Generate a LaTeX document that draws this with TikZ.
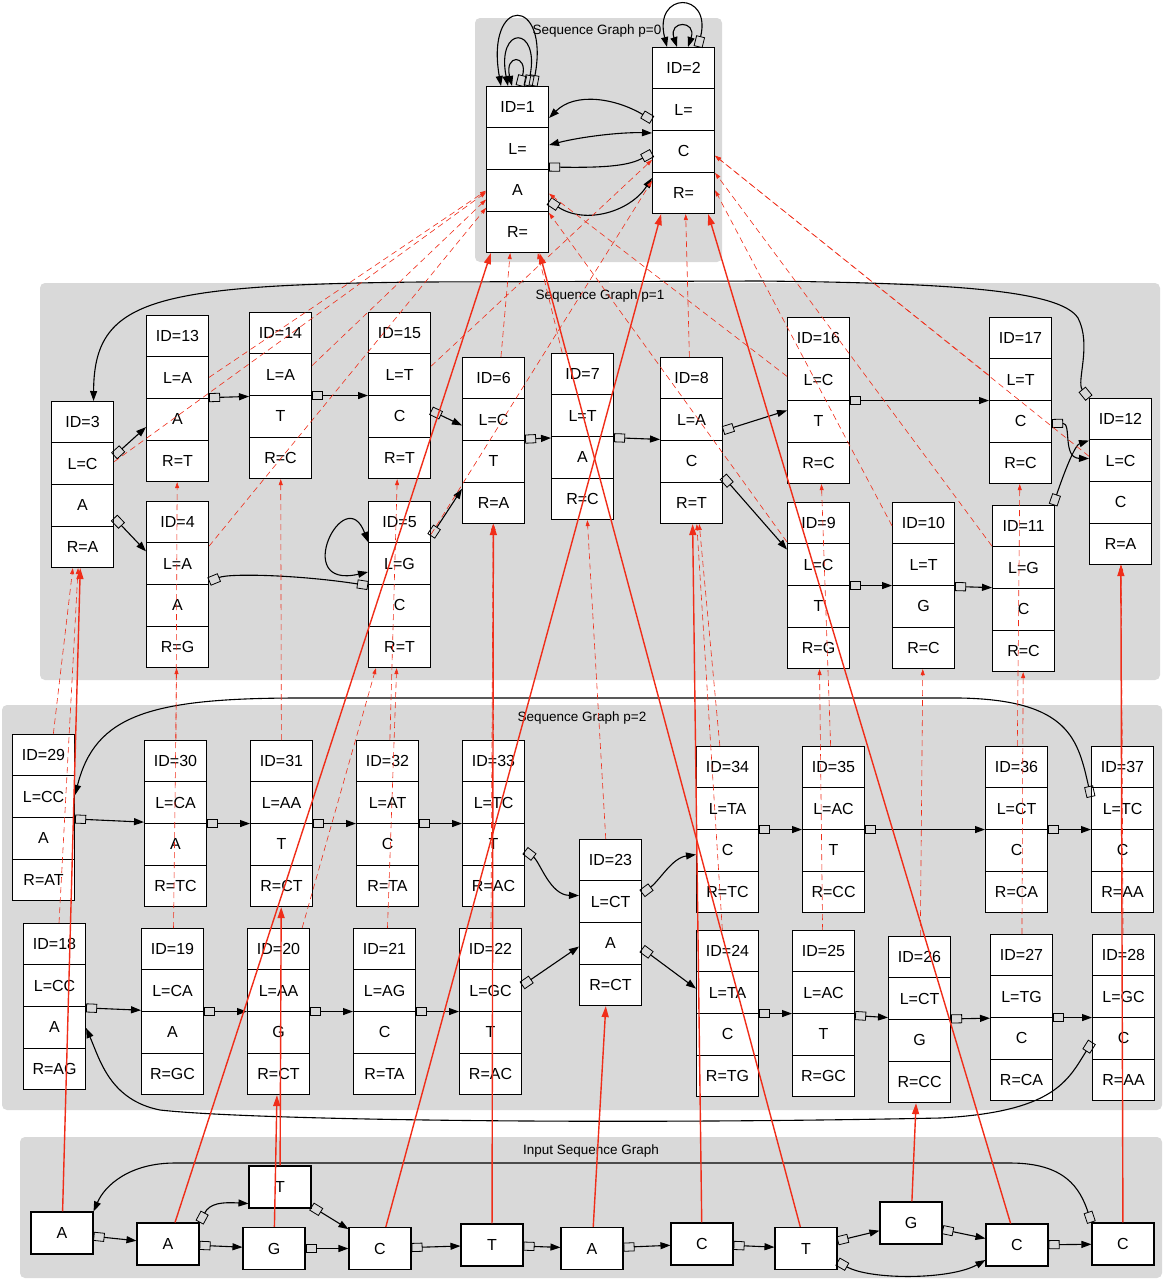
\documentclass[tikz,border=0pt]{standalone}
\usepackage{fontspec}
\setmainfont{Liberation Sans}
\usetikzlibrary{arrows.meta,calc}
\definecolor{clusterbg}{RGB}{217,217,217}
\definecolor{redc}{RGB}{240,45,25}
\newcommand\recfont{\fontsize{16}{18}\selectfont}
\newcommand\clusterfont{\fontsize{13.5}{15}\selectfont}
% name, x-left, y-top, id, left, base, right
\newcommand\recnode[7]{%
  \node[recbox, anchor=north west] (#1) at (#2,#3) {};
  \draw[cellsep] ($(#1.north west)!0.25!(#1.south west)$) -- ($(#1.north east)!0.25!(#1.south east)$);
  \draw[cellsep] ($(#1.north west)!0.5!(#1.south west)$) -- ($(#1.north east)!0.5!(#1.south east)$);
  \draw[cellsep] ($(#1.north west)!0.75!(#1.south west)$) -- ($(#1.north east)!0.75!(#1.south east)$);
  \node[celltext] (#1t1) at ($(#1.north)!0.125!(#1.south)$) {#4};
  \node[celltext] (#1t2) at ($(#1.north)!0.375!(#1.south)$) {#5};
  \node[celltext] (#1t3) at ($(#1.north)!0.625!(#1.south)$) {#6};
  \node[celltext] (#1t4) at ($(#1.north)!0.875!(#1.south)$) {#7};
}
\begin{document}
\begin{tikzpicture}[x=1pt,y=-1pt,
  recbox/.style={draw, fill=white, line width=1.1pt, minimum width=62pt, minimum height=166pt, inner sep=0pt},
  inbox/.style={draw, fill=white, line width=1.1pt, minimum width=62pt, minimum height=42pt, inner sep=0pt, font=\recfont},
  celltext/.style={font=\recfont, inner sep=0pt},
  cellsep/.style={line width=1.1pt},
  cluster/.style={fill=clusterbg, rounded corners=5pt},
  clab/.style={font=\clusterfont, inner sep=0pt},
  tbox/.tip={Rectangle[open,length=11pt,width=9pt,line width=0.8pt]},
  thead/.tip={Triangle[length=10pt,width=7pt]},
  be/.style={line width=1.1pt, arrows={tbox-thead}},
  bb/.style={line width=1.1pt, arrows={tbox-tbox}},
  hh/.style={line width=1.1pt, arrows={thead-thead}},
  rs/.style={draw=redc, line width=1.4pt, arrows={-Triangle[length=11pt,width=7pt]}},
  rd/.style={draw=redc, line width=0.6pt, dash pattern=on 6pt off 4pt, arrows={-Triangle[length=6pt,width=4pt]}},
]
\fill[white] (0,0) rectangle (1164,1280);
\useasboundingbox (0,0) rectangle (1164,1280);

% clusters
\fill[cluster] (475,18) rectangle (722,262);
\fill[cluster] (40,283) rectangle (1160,680);
\fill[cluster] (2,705) rectangle (1162,1110);
\fill[cluster] (20,1137) rectangle (1162,1278);
\node[clab] (lab0) at (597,31) {Sequence Graph p=0};
\node[clab] (lab1) at (600,296) {Sequence Graph p=1};
\node[clab] (lab2) at (582,718) {Sequence Graph p=2};
\node[clab] (lab3) at (591,1151) {Input Sequence Graph};

% p=0
\recnode{n1}{486}{86}{ID=1}{L=}{A}{R=}
\recnode{n2}{652}{47}{ID=2}{L=}{C}{R=}
% p=1
\recnode{n3}{51}{401}{ID=3}{L=C}{A}{R=A}
\recnode{n13}{146}{315}{ID=13}{L=A}{A}{R=T}
\recnode{n14}{249}{312}{ID=14}{L=A}{T}{R=C}
\recnode{n4}{146}{501}{ID=4}{L=A}{A}{R=G}
\recnode{n15}{368}{312}{ID=15}{L=T}{C}{R=T}
\recnode{n5}{368}{501}{ID=5}{L=G}{C}{R=T}
\recnode{n6}{462}{357}{ID=6}{L=C}{T}{R=A}
\recnode{n7}{551}{353}{ID=7}{L=T}{A}{R=C}
\recnode{n8}{660}{357}{ID=8}{L=A}{C}{R=T}
\recnode{n16}{787}{317}{ID=16}{L=C}{T}{R=C}
\recnode{n17}{989}{317}{ID=17}{L=T}{C}{R=C}
\recnode{n12}{1089}{398}{ID=12}{L=C}{C}{R=A}
\recnode{n9}{787}{502}{ID=9}{L=C}{T}{R=G}
\recnode{n10}{892}{502}{ID=10}{L=T}{G}{R=C}
\recnode{n11}{992}{505}{ID=11}{L=G}{C}{R=C}
% p=2
\recnode{n29}{12}{734}{ID=29}{L=CC}{A}{R=AT}
\recnode{n30}{144}{740}{ID=30}{L=CA}{A}{R=TC}
\recnode{n31}{250}{740}{ID=31}{L=AA}{T}{R=CT}
\recnode{n32}{356}{740}{ID=32}{L=AT}{C}{R=TA}
\recnode{n33}{462}{740}{ID=33}{L=TC}{T}{R=AC}
\recnode{n18}{23}{923}{ID=18}{L=CC}{A}{R=AG}
\recnode{n19}{141}{928}{ID=19}{L=CA}{A}{R=GC}
\recnode{n20}{247}{928}{ID=20}{L=AA}{G}{R=CT}
\recnode{n21}{353}{928}{ID=21}{L=AG}{C}{R=TA}
\recnode{n22}{459}{928}{ID=22}{L=GC}{T}{R=AC}
\recnode{n23}{579}{839}{ID=23}{L=CT}{A}{R=CT}
\recnode{n34}{696}{746}{ID=34}{L=TA}{C}{R=TC}
\recnode{n35}{802}{746}{ID=35}{L=AC}{T}{R=CC}
\recnode{n36}{985}{746}{ID=36}{L=CT}{C}{R=CA}
\recnode{n37}{1091}{746}{ID=37}{L=TC}{C}{R=AA}
\recnode{n24}{696}{930}{ID=24}{L=TA}{C}{R=TG}
\recnode{n25}{792}{930}{ID=25}{L=AC}{T}{R=GC}
\recnode{n26}{888}{936}{ID=26}{L=CT}{G}{R=CC}
\recnode{n27}{990}{934}{ID=27}{L=TG}{C}{R=CA}
\recnode{n28}{1092}{934}{ID=28}{L=GC}{C}{R=AA}

% input graph
\node[inbox] (i1) at (62,1233) {A};
\node[inbox] (i2) at (168,1244) {A};
\node[inbox] (i3) at (280,1187) {T};
\node[inbox] (i4) at (274,1248.5) {G};
\node[inbox] (i5) at (380,1248.5) {C};
\node[inbox] (i6) at (492,1245) {T};
\node[inbox] (i7) at (592,1248.5) {A};
\node[inbox] (i8) at (702,1244) {C};
\node[inbox] (i9) at (806,1248.5) {T};
\node[inbox] (i10) at (911,1223) {G};
\node[inbox] (i11) at (1017,1245) {C};
\node[inbox] (i12) at (1123,1244) {C};

% ---- black edges: input
\draw[be] (i1) -- (i2);
\draw[be] (i2) -- (i4);
\draw[be] (i2.north east) .. controls (210,1203) and (222,1202) .. ([yshift=5pt]i3.south west);
\draw[be] (i3) -- (i5);
\draw[be] (i4) -- (i5);
\draw[be] (i5) -- (i6);
\draw[be] (i6) -- (i7);
\draw[be] (i7) -- (i8);
\draw[be] (i8) -- (i9);
\draw[be] (i9) -- (i10);
\draw[be] ([yshift=-13pt]i9.east) .. controls (870,1280) and (950,1280) .. ([yshift=-15pt]i11.west);
\draw[be] (i10) -- (i11);
\draw[be] (i11) -- (i12);
\draw[be] (i12.north west) .. controls (1080,1188) and (1065,1163) .. (1010,1163) -- (175,1163) .. controls (130,1163) and (105,1185) .. (i1.north east);

% ---- black edges: p=2
\draw[be] (n29) -- (n30);
\draw[be] (n30) -- (n31);
\draw[be] (n31) -- (n32);
\draw[be] (n32) -- (n33);
\draw[be] ([yshift=-27pt]n33.east) .. controls (540,862) and (550,895) .. ([yshift=27pt]n23.west);
\draw[be] (n18) -- (n19);
\draw[be] (n19) -- (n20);
\draw[be] (n20) -- (n21);
\draw[be] (n21) -- (n22);
\draw[be] ([yshift=26pt]n22.east) -- ([yshift=-24pt]n23.west);
\draw[be] ([yshift=29pt]n23.east) .. controls (660,880) and (672,858) .. ([yshift=-25pt]n34.west);
\draw[be] ([yshift=-26pt]n23.east) -- ([yshift=25pt]n24.west);
\draw[be] (n34) -- (n35);
\draw[be] (n35) -- (n36);
\draw[be] (n36) -- (n37);
\draw[be] (n24) -- (n25);
\draw[be] (n25) -- (n26);
\draw[be] (n26) -- (n27);
\draw[be] (n27) -- (n28);
\draw[be] ([yshift=-51pt]n37.north west) .. controls (1078,740) and (1070,700) .. (960,698) -- (300,698) .. controls (150,698) and (95,715) .. ([yshift=-61pt]n29.north east);
\draw[be] ([yshift=-108pt]n28.north west) .. controls (1068,1080) and (1055,1112) .. (940,1118) .. controls (600,1125) and (250,1120) .. (160,1110) .. controls (110,1100) and (100,1060) .. ([yshift=-105pt]n18.north east);

% ---- black edges: p=1
\draw[be] (n12.north west) .. controls (1076,382) and (1092,345) .. (1078,318) .. controls (1060,290) and (950,283) .. (760,281) -- (420,282) .. controls (150,285) and (94,300) .. ([xshift=11pt]n3.north);
\draw[be] (n3) -- (n13);
\draw[be] (n3) -- (n4);
\draw[be] (n13) -- (n14);
\draw[be] (n14) -- (n15);
\draw[be] (n15) -- (n6);
\draw[be] (n5) -- (n6);
\draw[bb] ([yshift=3pt]n4.east) .. controls (230,573) and (300,575) .. ([yshift=-1pt]n5.west);
\draw[hh] ([yshift=-41pt]n5.north west) .. controls (345,480) and (290,590) .. ([yshift=-71pt]n5.north west);
\draw[be] (n6) -- (n7);
\draw[be] (n7) -- (n8);
\draw[be] (n8) -- (n16);
\draw[be] (n8) -- (n9);
\draw[be] (n16) -- (n17);
\draw[be] (n9) -- (n10);
\draw[be] (n10) -- (n11);
\draw[be] ([yshift=-23pt]n17.east) .. controls (1072,423) and (1062,458) .. ([yshift=23pt]n12.west);
\draw[be] ([xshift=-2pt]n11.north east) .. controls (1065,470) and (1075,445) .. ([yshift=41pt]n12.west);

% ---- black edges: p=0
\draw[be] ([yshift=-73pt]n2.north west) .. controls (615,98) and (575,92) .. ([yshift=-32pt]n1.north east);
\draw[hh] ([yshift=-59pt]n1.north east) .. controls (580,137) and (620,132) .. ([yshift=-86pt]n2.north west);
\draw[bb] ([yshift=-81pt]n1.north east) .. controls (610,168) and (630,165) .. ([yshift=-106pt]n2.north west);
\draw[be] ([yshift=-115pt]n1.north east) .. controls (585,225) and (630,212) .. ([yshift=-131pt]n2.north west);
\draw[be] ([xshift=47pt]n1.north west) .. controls (550,-5) and (485,-5) .. ([xshift=15pt]n1.north west);
\draw[be] ([xshift=42pt]n1.north west) .. controls (540,25) and (496,25) .. ([xshift=22pt]n1.north west);
\draw[be] ([xshift=34pt]n1.north west) .. controls (528,54) and (504,54) .. ([xshift=26pt]n1.north west);
\draw[be] ([xshift=46pt]n2.north west) .. controls (712,-9) and (653,-9) .. ([xshift=15pt]n2.north west);
\draw[hh] ([xshift=36pt]n2.north west) .. controls (697,20) and (668,20) .. ([xshift=25pt]n2.north west);

% ---- red dashed: p=2 -> p=1
\draw[rd] (n18) -- (n3);
\draw[rd] (n29) -- (n3);
\draw[rd] (n19) -- (n4);
\draw[rd] (n30) -- (n13);
\draw[rd] (n20) -- (n5);
\draw[rd] (n31) -- (n14);
\draw[rd] (n32) -- (n15);
\draw[rd] (n21) -- (n5);
\draw[rd] (n33) -- (n6);
\draw[rd] (n22) -- (n6);
\draw[rd] (n23) -- (n7);
\draw[rd] (n34) -- (n8);
\draw[rd] (n24) -- (n8);
\draw[rd] (n35) -- (n16);
\draw[rd] (n25) -- (n9);
\draw[rd] (n26) -- (n10);
\draw[rd] (n36) -- (n17);
\draw[rd] (n27) -- (n11);
\draw[rd] (n37) -- (n12);
\draw[rd] (n28) -- (n12);
% ---- red dashed: p=1 -> p=0
\draw[rd] (n3) -- (n1);
\draw[rd] (n4) -- (n1);
\draw[rd] (n6) -- (n1);
\draw[rd] (n7) -- (n1);
\draw[rd] (n9) -- (n1);
\draw[rd] (n13) -- (n1);
\draw[rd] (n14) -- (n1);
\draw[rd] (n16) -- (n1);
\draw[rd] (n5) -- (n2);
\draw[rd] (n8) -- (n2);
\draw[rd] (n10) -- (n2);
\draw[rd] (n11) -- (n2);
\draw[rd] (n12) -- (n2);
\draw[rd] (n15) -- (n2);
\draw[rd] (n17) -- (n2);

% ---- red solid: input -> graphs
\draw[rs] (i1) -- (n3);
\draw[rs] (i2) -- (n1);
\draw[rs] (i3) -- (n31);
\draw[rs] (i4) -- (n20);
\draw[rs] (i5) -- (n2);
\draw[rs] (i6) -- (n6);
\draw[rs] (i7) -- (n23);
\draw[rs] (i8) -- (n8);
\draw[rs] (i9) -- (n1);
\draw[rs] (i10) -- (n26);
\draw[rs] (i11) -- (n2);
\draw[rs] (i12) -- (n12);
\end{tikzpicture}
\end{document}
